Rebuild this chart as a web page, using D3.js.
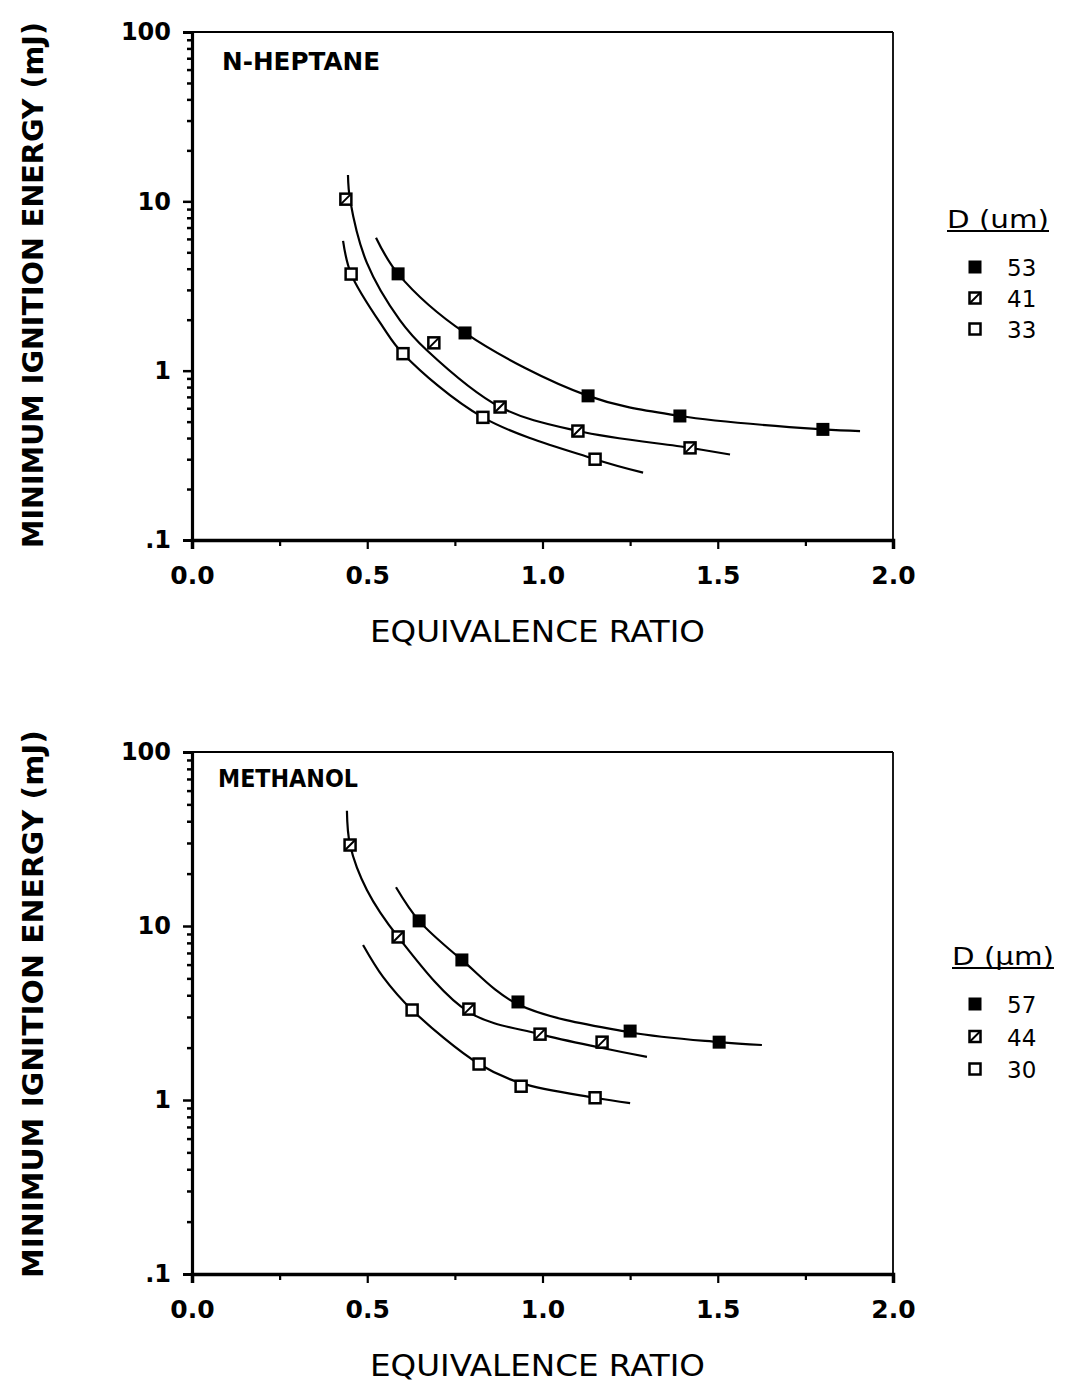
<!DOCTYPE html>
<html>
<head>
<meta charset="utf-8">
<script src="https://cdn.jsdelivr.net/npm/d3@7"></script>
<style>
  body { margin: 0; background: #fff; }
  svg { display: block; }
</style>
</head>
<body>
<div id="chart"></div>
<script>
// axis ticks
const phiTicks = [0, 0.5, 1, 1.5, 2];
const phiTickLabels = ["0.0", "0.5", "1.0", "1.5", "2.0"];
const phiMinorTicks = [0.25, 0.75, 1.25, 1.75];
const energyTicks = [0.1, 1, 10, 100];
const energyTickLabels = [".1", "1", "10", "100"];

// n-heptane, [equivalence ratio, MIE mJ]
const heptaneDiameters = ["53", "41", "33"];
const heptane53 = [[0.588, 3.73], [0.779, 1.67], [1.130, 0.71], [1.392, 0.54], [1.800, 0.45]];
const heptane41 = [[0.439, 10.3], [0.690, 1.46], [0.879, 0.61], [1.101, 0.44], [1.421, 0.35]];
const heptane33 = [[0.454, 3.72], [0.602, 1.26], [0.830, 0.53], [1.150, 0.30]];
// fitted curves
const heptaneFit53 = [[0.525, 6.1], [0.588, 3.73], [0.779, 1.67], [1.130, 0.71], [1.392, 0.54], [1.800, 0.45], [1.906, 0.44]];
const heptaneFit41 = [[0.445, 14.3], [0.451, 10.2], [0.499, 4.33], [0.593, 1.99], [0.670, 1.32], [0.879, 0.61], [1.101, 0.44], [1.421, 0.35], [1.535, 0.32]];
const heptaneFit33 = [[0.431, 5.84], [0.454, 3.72], [0.545, 1.81], [0.602, 1.26], [0.830, 0.53], [1.150, 0.30], [1.287, 0.25]];

// methanol
const methanolDiameters = ["57", "44", "30"];
const methanol57 = [[0.648, 10.7], [0.770, 6.38], [0.930, 3.66], [1.250, 2.49], [1.504, 2.15]];
const methanol44 = [[0.451, 29.2], [0.588, 8.65], [0.790, 3.33], [0.993, 2.39], [1.170, 2.15]];
const methanol30 = [[0.628, 3.29], [0.819, 1.61], [0.939, 1.20], [1.150, 1.03]];
const methanolFit57 = [[0.582, 16.7], [0.648, 10.7], [0.770, 6.38], [0.930, 3.55], [1.250, 2.45], [1.504, 2.15], [1.626, 2.07]];
const methanolFit44 = [[0.442, 46], [0.451, 29.2], [0.499, 16.1], [0.588, 8.65], [0.790, 3.2], [0.993, 2.39], [1.170, 1.99], [1.298, 1.77]];
const methanolFit30 = [[0.488, 7.78], [0.545, 5.1], [0.628, 3.29], [0.819, 1.61], [0.939, 1.25], [1.150, 1.03], [1.250, 0.96]];

const markerTypes = ["filled", "hatched", "open"];

const W = 1072, H = 1385;
const font = "'DejaVu Sans', sans-serif";

var svg = d3.select("#chart").append("svg")
    .attr("width", W)
    .attr("height", H);

function drawMarker(g, type, cx, cy){
    var s = 11;
    if(type === "filled"){
        g.append("rect")
            .attr("x", cx - 6.5).attr("y", cy - 6.5)
            .attr("width", 13).attr("height", 13)
            .attr("fill", "#000");
        return;
    }
    g.append("rect")
        .attr("x", cx - s/2).attr("y", cy - s/2)
        .attr("width", s).attr("height", s)
        .attr("fill", "#fff")
        .attr("stroke", "#000")
        .attr("stroke-width", 2.5);
    if(type === "hatched"){
        g.append("line")
            .attr("x1", cx - s/2).attr("y1", cy + s/2)
            .attr("x2", cx + s/2).attr("y2", cy - s/2)
            .attr("stroke", "#000")
            .attr("stroke-width", 2);
    }
}

function drawPanel(p){
    var x = d3.scaleLinear().domain([0, 2]).range([192, 893]);
    var y = d3.scaleLog().domain([0.1, 100]).range([p.bottom, p.top]);

    var g = svg.append("g");

    // frame, thin top / right
    g.append("line").attr("x1", 192).attr("x2", 893).attr("y1", p.top).attr("y2", p.top)
        .attr("stroke", "#000").attr("stroke-width", 2.2);
    g.append("line").attr("x1", 893).attr("x2", 893).attr("y1", p.top).attr("y2", p.bottom)
        .attr("stroke", "#000").attr("stroke-width", 1.8);

    // minor y ticks
    var minors = [];
    [0.1, 1, 10].forEach(d=>{
        for(let k = 2; k < 10; k++) minors.push(d * k);
    });
    g.append("g")
        .attr("transform", "translate(192,0)")
        .call(d3.axisLeft(y).tickValues(minors).tickSize(5).tickFormat(""))
        .call(a=>a.select(".domain").remove())
        .selectAll("line").attr("stroke-width", 2.5);

    var yAxis = g.append("g")
        .attr("transform", "translate(192,0)")
        .call(d3.axisLeft(y).tickValues(energyTicks).tickSize(9).tickPadding(12)
            .tickFormat((d,i)=>energyTickLabels[i]));
    yAxis.select(".domain").attr("stroke-width", 3.2);
    yAxis.selectAll("line").attr("stroke-width", 2.5);
    yAxis.selectAll("text")
        .style("font-family", font)
        .style("font-weight", "bold")
        .style("font-size", "24px")
        .attr("fill", "#000");

    g.append("g")
        .attr("transform", `translate(0,${p.bottom})`)
        .call(d3.axisBottom(x).tickValues(phiMinorTicks).tickSize(6).tickFormat(""))
        .call(a=>a.select(".domain").remove())
        .selectAll("line").attr("stroke-width", 2.2);

    var xAxis = g.append("g")
        .attr("transform", `translate(0,${p.bottom})`)
        .call(d3.axisBottom(x).tickValues(phiTicks).tickSize(9).tickPadding(17)
            .tickFormat((d,i)=>phiTickLabels[i]));
    xAxis.select(".domain").attr("stroke-width", 3.5);
    xAxis.selectAll("line").attr("stroke-width", 2.2);
    xAxis.selectAll("text")
        .style("font-family", font)
        .style("font-weight", "bold")
        .style("font-size", "25px")
        .attr("fill", "#000");

    // axis titles
    g.append("text")
        .attr("transform", `translate(43,${p.labelMid}) rotate(-90)`)
        .attr("text-anchor", "middle")
        .attr("textLength", p.labelLen)
        .attr("lengthAdjust", "spacingAndGlyphs")
        .style("font-family", font)
        .style("font-weight", "bold")
        .style("font-size", "29px")
        .text("MINIMUM IGNITION ENERGY (mJ)");

    g.append("text")
        .attr("x", 370).attr("y", p.bottom + 102)
        .attr("textLength", 335)
        .attr("lengthAdjust", "spacingAndGlyphs")
        .style("font-family", font)
        .style("font-size", "31px")
        .text("EQUIVALENCE RATIO");

    g.append("text")
        .attr("x", p.titleX).attr("y", p.top + p.titleDy)
        .attr("textLength", p.titleLen)
        .attr("lengthAdjust", "spacingAndGlyphs")
        .style("font-family", font)
        .style("font-weight", "bold")
        .style("font-size", "25px")
        .text(p.title);

    // fit curves
    var line = d3.line()
        .x(d=>x(d[0]))
        .y(d=>y(d[1]))
        .curve(d3.curveCatmullRom.alpha(0.5));

    p.fits.forEach(f=>{
        g.append("path")
            .attr("d", line(f))
            .attr("fill", "none")
            .attr("stroke", "#000")
            .attr("stroke-width", 2.2);
    });

    p.series.forEach((s,i)=>{
        s.forEach(d=>drawMarker(g, markerTypes[i], x(d[0]), y(d[1])));
    });

    // legend
    var lg = g.append("g");
    lg.append("text")
        .attr("x", p.legendX).attr("y", p.legendY)
        .attr("textLength", 102)
        .attr("lengthAdjust", "spacingAndGlyphs")
        .style("font-family", font)
        .style("font-size", "25px")
        .text(p.legendTitle);
    lg.append("line")
        .attr("x1", p.legendX).attr("x2", p.legendX + 102)
        .attr("y1", p.legendY + 3).attr("y2", p.legendY + 3)
        .attr("stroke", "#000").attr("stroke-width", 2.2);

    p.diameters.forEach((d,i)=>{
        var cy = p.legendY + 39 + i * p.legendStep;
        drawMarker(lg, markerTypes[i], 975, cy);
        lg.append("text")
            .attr("x", 1007).attr("y", cy + 9)
            .style("font-family", font)
            .style("font-size", "23px")
            .text(d);
    });
}

drawPanel({
    top: 32, bottom: 540,
    labelMid: 285, labelLen: 526,
    title: "N-HEPTANE", titleX: 222, titleDy: 38, titleLen: 158,
    fits: [heptaneFit53, heptaneFit41, heptaneFit33],
    series: [heptane53, heptane41, heptane33],
    diameters: heptaneDiameters,
    legendTitle: "D (um)", legendX: 947, legendY: 228, legendStep: 31
});

drawPanel({
    top: 752, bottom: 1274,
    labelMid: 1004, labelLen: 548,
    title: "METHANOL", titleX: 218, titleDy: 35, titleLen: 140,
    fits: [methanolFit57, methanolFit44, methanolFit30],
    series: [methanol57, methanol44, methanol30],
    diameters: methanolDiameters,
    legendTitle: "D (µm)", legendX: 952, legendY: 965, legendStep: 32.5
});
</script>
</body>
</html>
